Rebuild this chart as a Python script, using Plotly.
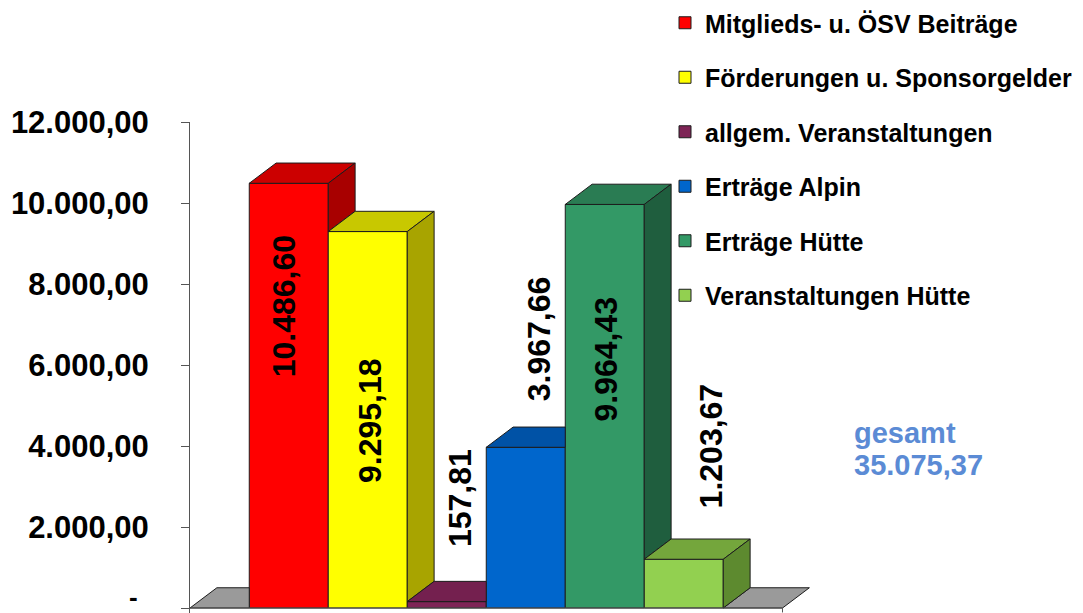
import plotly.graph_objects as go

# ---------------- data ----------------
categories = [
    "Mitglieds- u. ÖSV Beiträge",
    "Förderungen u. Sponsorgelder",
    "allgem. Veranstaltungen",
    "Erträge Alpin",
    "Erträge Hütte",
    "Veranstaltungen Hütte",
]
values = [10486.60, 9295.18, 157.81, 3967.66, 9964.43, 1203.67]
total_title = "gesamt"
total_value = "35.075,37"
y_tickvals = [0, 2000, 4000, 6000, 8000, 10000, 12000]
y_ticktext = ["-", "2.000,00", "4.000,00", "6.000,00", "8.000,00", "10.000,00", "12.000,00"]

# ---------------- style / layout ----------------
front_colors = ["#FF0000", "#FFFF00", "#7E2456", "#0066CC", "#339966", "#92D050"]
top_colors = ["#CC0000", "#C8C800", "#74204F", "#0052A6", "#2A7C53", "#74A63C"]
side_colors = ["#A80000", "#A8A400", "#5A173D", "#004285", "#1F5E3E", "#5D8A2F"]
EDGE = "#1c1c1c"
BAR_W = 1.0
DX = 0.34      # depth offset in x units
DY = 500       # depth offset in y units
FLOOR_X = (-1.25, 6.25)
# manual positions of the rotated value labels (x in category units, y in value units)
label_x = [-0.06, 1.03, 2.17, 3.17, 4.01, 5.35]
label_y = [7450, 4620, 2720, 6640, 6150, 4000]
FONT = "Arial, Liberation Sans, sans-serif"


def de_fmt(v):
    s = f"{v:,.2f}"
    return s.replace(",", "X").replace(".", ",").replace("X", ".")


# the page body has an 8px default margin -> figure is 8px smaller than the window
PAGE = 8
W_REF, H_REF = 1083, 613
W, H = W_REF - PAGE, H_REF - PAGE
ML, MR, MT, MB = 190 - PAGE, W_REF - 810, 122 - PAGE, 0
px_per_x = 79.0
px_per_y = 486.0 / 12000.0
plot_w = W - ML - MR
plot_h = H - MT - MB
x_range = [FLOOR_X[0], FLOOR_X[0] + plot_w / px_per_x]
y_range = [12000 - plot_h / px_per_y, 12000]


def paper_x(px):
    return (px - 190) / plot_w


def paper_y(py):
    return (H_REF - py) / plot_h


fig = go.Figure()

n = len(values)
xs = list(range(n))
L0 = xs[0] - BAR_W / 2
Rn = xs[-1] + BAR_W / 2


def poly(px, py, color):
    fig.add_trace(go.Scatter(
        x=list(px) + [px[0]], y=list(py) + [py[0]], mode="lines",
        fill="toself", fillcolor=color, line=dict(color=EDGE, width=1),
        showlegend=False, hoverinfo="skip"))


# front faces (bars, with legend)
for i, (cat, v) in enumerate(zip(categories, values)):
    fig.add_trace(go.Bar(
        x=[xs[i]], y=[v], width=BAR_W, name=cat, legendgroup=str(i),
        marker=dict(color=front_colors[i], line=dict(color=EDGE, width=1)),
        hoverinfo="skip"))

# floor (visible parts)
poly([FLOOR_X[0], L0, L0, FLOOR_X[0] + DX], [0, 0, DY, DY], "#9A9A9A")
poly([Rn, FLOOR_X[1], FLOOR_X[1] + DX, Rn + DX], [0, 0, DY, DY], "#9A9A9A")

# top and side faces with occlusion by the next bar
for i, v in enumerate(values):
    L = xs[i] - BAR_W / 2
    R = xs[i] + BAR_W / 2
    nxt = values[i + 1] if i + 1 < n else 0.0
    if nxt >= v + DY:
        tx, ty = [L, R, R, L + DX], [v, v, v + DY, v + DY]
    elif nxt <= v:
        tx, ty = [L, R, R + DX, L + DX], [v, v, v + DY, v + DY]
    else:
        xr = R + DX * (nxt - v) / DY
        tx = [L, R, R, xr, R + DX, L + DX]
        ty = [v, v, nxt, nxt, v + DY, v + DY]
    poly(tx, ty, top_colors[i])
    if nxt < v:
        poly([R, R, R + DX, R + DX], [nxt, v, v + DY, nxt + DY], side_colors[i])

# baseline
fig.add_trace(go.Scatter(x=[FLOOR_X[0], FLOOR_X[1], FLOOR_X[1]], y=[0, 0, -110],
                         mode="lines", line=dict(color="#555555", width=1),
                         showlegend=False, hoverinfo="skip"))

# value labels
for i, v in enumerate(values):
    fig.add_annotation(x=label_x[i], y=label_y[i], xref="x", yref="y",
                       text=de_fmt(v), textangle=-90, showarrow=False,
                       font=dict(family=FONT, size=32, color="#000000", weight="bold"))

# total
fig.add_annotation(x=paper_x(852), y=paper_y(433), xref="paper", yref="paper",
                   xanchor="left", yanchor="middle", text=total_title, showarrow=False,
                   font=dict(family=FONT, size=29, color="#5B8BD5", weight="bold"))
fig.add_annotation(x=paper_x(852), y=paper_y(465), xref="paper", yref="paper",
                   xanchor="left", yanchor="middle", text=total_value, showarrow=False,
                   font=dict(family=FONT, size=29, color="#5B8BD5", weight="bold"))

# the zero tick label ("-") sits at the very bottom edge: draw it as an annotation kept inside
fig.add_annotation(x=paper_x(139), y=0, xref="paper", yref="paper",
                   xanchor="right", yanchor="bottom", text=y_ticktext[0], showarrow=False,
                   borderpad=0,
                   font=dict(family=FONT, size=26, color="#000000", weight="bold"))
ticktext = ["" if t == y_ticktext[0] else t for t in y_ticktext]

fig.update_layout(
    width=W, height=H,
    margin=dict(l=ML, r=MR, t=MT, b=MB, pad=0, autoexpand=False),
    paper_bgcolor="white", plot_bgcolor="white",
    barmode="overlay",
    showlegend=True,
    legend=dict(x=paper_x(665), y=paper_y(0), xanchor="left", yanchor="top",
                font=dict(family=FONT, size=25, color="#000000", weight="bold"),
                tracegroupgap=19, traceorder="grouped", bgcolor="rgba(0,0,0,0)",
                itemclick=False, maxheight=1.0),
    xaxis=dict(range=x_range, visible=False, fixedrange=True),
    yaxis=dict(range=y_range, tickvals=y_tickvals, ticktext=ticktext,
               showline=True, linecolor="#555555", linewidth=1,
               ticks="outside", ticklen=8, tickcolor="#555555",
               showgrid=False, zeroline=False, ticklabelstandoff=26,
               tickfont=dict(family=FONT, size=31, color="#000000", weight="bold"),
               fixedrange=True),
)

fig.write_html("out.html", config={"displayModeBar": False})
